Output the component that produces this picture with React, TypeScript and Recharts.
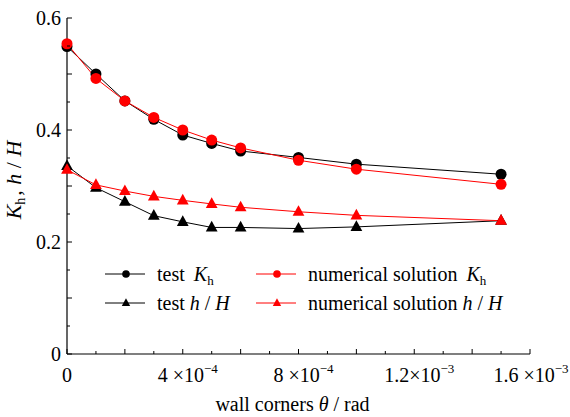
import { Legend, Line, LineChart, XAxis, YAxis } from "recharts";

const FONT = "'Liberation Serif'";
const TXT = { fontFamily: FONT };

// wall rotation angle (rad)
const THETA = [0, 0.0001, 0.0002, 0.0003, 0.0004, 0.0005, 0.0006, 0.0008, 0.001, 0.0015];

const TEST_KH = [0.549, 0.5, 0.452, 0.419, 0.391, 0.376, 0.3625, 0.351, 0.339, 0.321];
const NUM_KH = [0.554, 0.492, 0.452, 0.4225, 0.4, 0.382, 0.368, 0.346, 0.33, 0.303];
const TEST_HH = [0.336, 0.297, 0.272, 0.247, 0.236, 0.226, 0.226, 0.224, 0.227, 0.238];
const NUM_HH = [0.329, 0.302, 0.291, 0.2815, 0.2744, 0.268, 0.262, 0.254, 0.2476, 0.238];

const X_TICKS = [
  0, 0.0001, 0.0002, 0.0003, 0.0004, 0.0005, 0.0006, 0.0007, 0.0008, 0.0009, 0.001, 0.0011,
  0.0012, 0.0013, 0.0014, 0.0015, 0.0016,
];
const X_LABEL_TICKS = [0, 0.0004, 0.0008, 0.0012, 0.0016];
const X_LABEL_BASES = ["0", "4 ×10", "8 ×10", "1.2×10", "1.6 ×10"];
const X_LABEL_EXPS = ["", "−4", "−4", "−3", "−3"];

const Y_TICKS = [0, 0.05, 0.1, 0.15, 0.2, 0.25, 0.3, 0.35, 0.4, 0.45, 0.5, 0.55, 0.6];
const Y_LABEL_TICKS = [0, 0.2, 0.4, 0.6];
const Y_LABELS = ["0", "0.2", "0.4", "0.6"];

const SERIES = [
  { key: "testKh", values: TEST_KH, color: "#000000", shape: "circle", prefix: "test", sym: "Kh", col: 0, row: 0 },
  { key: "testHH", values: TEST_HH, color: "#000000", shape: "triangle", prefix: "test", sym: "hH", col: 0, row: 1 },
  { key: "numKh", values: NUM_KH, color: "#ff0000", shape: "circle", prefix: "numerical solution", sym: "Kh", col: 1, row: 0 },
  { key: "numHH", values: NUM_HH, color: "#ff0000", shape: "triangle", prefix: "numerical solution", sym: "hH", col: 1, row: 1 },
];

const data = THETA.map((t, i) => {
  const row: Record<string, number> = { theta: t };
  for (const s of SERIES) row[s.key] = s.values[i];
  return row;
});

function Marker({ shape, cx, cy, color, size }: { shape: string; cx: number; cy: number; color: string; size: number }) {
  if (shape === "circle") return <circle cx={cx} cy={cy} r={size} fill={color} />;
  const h = size * 1.9;
  const w = size * 1.05;
  return (
    <polygon
      points={`${cx},${cy - h * 0.62} ${cx - w},${cy + h * 0.38} ${cx + w},${cy + h * 0.38}`}
      fill={color}
    />
  );
}

function makeDot(shape: string, color: string, key: string) {
  return (p: any) => {
    if (p.cx == null || p.cy == null) return <g key={`${key}-${p.index}`} />;
    return (
      <g key={`${key}-${p.index}`}>
        <Marker shape={shape} cx={p.cx} cy={p.cy} color={color} size={shape === "circle" ? 5.5 : 5.6} />
      </g>
    );
  };
}

function XTick(props: any) {
  const { x, y, payload } = props;
  const v = payload.value as number;
  const len = Math.round(v / 0.0001) % 2 === 0 ? 5 : 3;
  const li = X_LABEL_TICKS.findIndex((t) => Math.abs(t - v) < 1e-9);
  const exp = li >= 0 ? X_LABEL_EXPS[li] : "";
  // last label sits against the right edge, as in the original figure
  const shift = !exp ? 0 : li === X_LABEL_TICKS.length - 1 ? 1 : 5;
  return (
    <g>
      <line x1={x} y1={y} x2={x} y2={y - len} stroke="#000" strokeWidth={1} />
      {li >= 0 && (
        <text x={x + shift} y={y + 28} textAnchor="middle" fontSize={20} style={TXT} fill="#000">
          {X_LABEL_BASES[li]}
          {exp && (
            <tspan dy={-9} fontSize={13}>
              {exp}
            </tspan>
          )}
        </text>
      )}
    </g>
  );
}

function YTick(props: any) {
  const { x, y, payload } = props;
  const v = payload.value as number;
  const len = Math.round(v / 0.05) % 2 === 0 ? 5 : 3;
  const li = Y_LABEL_TICKS.findIndex((t) => Math.abs(t - v) < 1e-9);
  return (
    <g>
      <line x1={x} y1={y} x2={x + len} y2={y} stroke="#000" strokeWidth={1} />
      {li >= 0 && (
        <text x={x - 6} y={y} dy="0.35em" textAnchor="end" fontSize={20} style={TXT} fill="#000">
          {Y_LABELS[li]}
        </text>
      )}
    </g>
  );
}

function XTitle(props: any) {
  const vb = props.viewBox;
  const cx = vb.x + vb.width / 2 - 6;
  return (
    <text x={cx} y={vb.y + 57} textAnchor="middle" fontSize={20} style={TXT} fill="#000">
      wall corners <tspan fontStyle="italic">θ</tspan> / rad
    </text>
  );
}

function YTitle(props: any) {
  const vb = props.viewBox;
  const cy = vb.y + vb.height / 2 - 6;
  const cx = 21;
  return (
    <text
      x={cx}
      y={cy}
      transform={`rotate(-90, ${cx}, ${cy})`}
      textAnchor="middle"
      fontSize={22}
      style={TXT}
      fill="#000"
    >
      <tspan fontStyle="italic">K</tspan>
      <tspan fontSize={14} dy={4}>h</tspan>
      <tspan dy={-4} dx={2}>, </tspan>
      <tspan fontStyle="italic">h</tspan>
      <tspan> / </tspan>
      <tspan fontStyle="italic">H</tspan>
    </text>
  );
}

function SymbolText({ sym }: { sym: string }) {
  if (sym === "Kh") {
    return (
      <>
        <tspan dx={9} fontStyle="italic">K</tspan>
        <tspan fontSize={13} dy={4}>h</tspan>
      </>
    );
  }
  return (
    <>
      <tspan dx={5} fontStyle="italic">h</tspan>
      <tspan> / </tspan>
      <tspan fontStyle="italic">H</tspan>
    </>
  );
}

function LegendBox() {
  return (
    <svg width={460} height={62} style={{ overflow: "visible", display: "block" }}>
      {SERIES.map((s) => {
        const x0 = s.col === 0 ? 10 : 161;
        const y0 = s.row === 0 ? 16 : 45;
        return (
          <g key={s.key}>
            <line x1={x0} y1={y0} x2={x0 + 40} y2={y0} stroke={s.color} strokeWidth={1} />
            <Marker shape={s.shape} cx={x0 + 21} cy={y0} color={s.color} size={s.shape === "circle" ? 3.8 : 4} />
            <text x={x0 + 52} y={y0} dy="0.35em" fontSize={20} style={TXT} fill="#000">
              {s.prefix}
              <SymbolText sym={s.sym} />
            </text>
          </g>
        );
      })}
    </svg>
  );
}

export default function App() {
  return (
    <div style={{ position: "absolute", left: 0, top: 0, width: 570, height: 417, background: "#fff", fontFamily: FONT }}>
      <LineChart width={570} height={417} data={data} margin={{ top: 18, right: 40, bottom: 0, left: 0 }}>
        <XAxis
          type="number"
          dataKey="theta"
          domain={[0, 0.0016]}
          ticks={X_TICKS}
          interval={0}
          height={63}
          tickSize={0}
          tickMargin={0}
          tickLine={false}
          axisLine={{ stroke: "#000", strokeWidth: 1.2 }}
          tick={<XTick />}
          label={<XTitle />}
        />
        <YAxis
          type="number"
          domain={[0, 0.6]}
          ticks={Y_TICKS}
          interval={0}
          width={67}
          tickSize={0}
          tickMargin={0}
          tickLine={false}
          axisLine={{ stroke: "#000", strokeWidth: 1.2 }}
          tick={<YTick />}
          label={<YTitle />}
        />
        {SERIES.map((s) => (
          <Line
            key={s.key}
            type="linear"
            dataKey={s.key}
            stroke={s.color}
            strokeWidth={1}
            dot={makeDot(s.shape, s.color, s.key)}
            activeDot={false}
            isAnimationActive={false}
          />
        ))}
        <Legend
          layout="vertical"
          align="center"
          verticalAlign="middle"
          content={() => <LegendBox />}
          wrapperStyle={{ left: 95, top: 258, width: 460, height: 62 }}
        />
      </LineChart>
    </div>
  );
}
